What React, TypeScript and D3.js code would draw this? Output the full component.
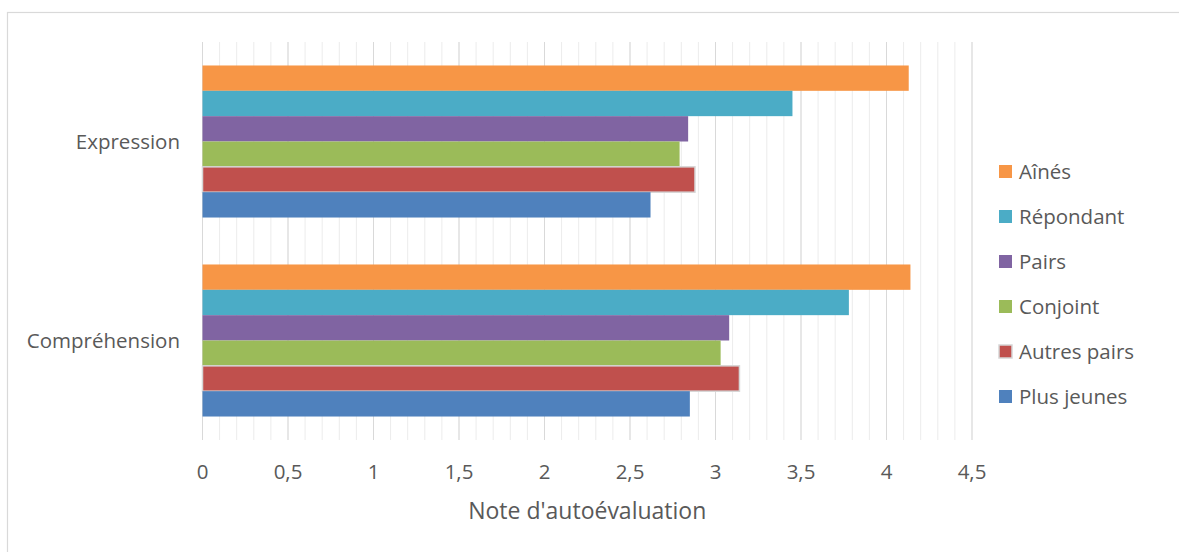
import React from "react";
import * as d3 from "d3";

const categories = ["Expression", "Compréhension"];
const seriesNames = ["Aînés", "Répondant", "Pairs", "Conjoint", "Autres pairs", "Plus jeunes"];
const seriesColors = ["#F79646", "#4BACC6", "#8064A2", "#9BBB59", "#C0504D", "#4F81BD"];
const expressionValues = [4.13, 3.45, 2.84, 2.79, 2.88, 2.62];
const comprehensionValues = [4.14, 3.78, 3.08, 3.03, 3.14, 2.85];
const tickValues = [0, 0.5, 1, 1.5, 2, 2.5, 3, 3.5, 4, 4.5];
const tickLabels = ["0", "0,5", "1", "1,5", "2", "2,5", "3", "3,5", "4", "4,5"];
const axisTitle = "Note d'autoévaluation";

const W = 1179;
const H = 552;
const FONT = "'Open Sans', sans-serif";
const TEXT = "#595959";

export default function App() {
  const x = d3.scaleLinear().domain([0, 4.5]).range([202.5, 972]);
  const y0 = d3.scaleBand<string>().domain(categories).range([42, 440]).paddingInner(0.236).paddingOuter(0.118);
  const y1 = d3.scaleBand<string>().domain(seriesNames).range([0, y0.bandwidth()]).padding(0);
  const valuesByCat: Record<string, number[]> = {
    Expression: expressionValues,
    "Compréhension": comprehensionValues,
  };
  const minor = d3.range(0, 46).map((i) => i / 10);

  return (
    <svg width={W} height={H} style={{ position: "absolute", left: 0, top: 0, background: "#fff" }}>
      <rect x={7.5} y={12.5} width={W + 10} height={H + 10} fill="#fff" stroke="#d9d9d9" strokeWidth={1.2} />
      {minor.map((v, i) => (
        <line key={"m" + i} x1={x(v)} x2={x(v)} y1={42} y2={440} stroke="#ececec" strokeWidth={1} />
      ))}
      {tickValues.map((v, i) => (
        <line key={"g" + i} x1={x(v)} x2={x(v)} y1={42} y2={440} stroke="#d9d9d9" strokeWidth={1} />
      ))}
      {categories.map((c) => (
        <g key={c} transform={`translate(0,${y0(c)})`}>
          {seriesNames.map((s, i) => {
            const v = valuesByCat[c][i];
            const isRed = s === "Autres pairs";
            return (
              <rect
                key={s}
                x={x(0)}
                y={y1(s)}
                width={x(v) - x(0)}
                height={y1.bandwidth()}
                fill={seriesColors[i]}
                stroke={isRed ? "#d6d6d6" : "none"}
                strokeWidth={isRed ? 1.5 : 0}
              />
            );
          })}
        </g>
      ))}
      {categories.map((c) => (
        <text
          key={"l" + c}
          x={180}
          y={(y0(c) as number) + y0.bandwidth() / 2}
          dy="0.35em"
          textAnchor="end"
          fontFamily={FONT}
          fontSize={20.5}
          fill={TEXT}
        >
          {c}
        </text>
      ))}
      {tickValues.map((v, i) => (
        <text key={"t" + i} x={x(v)} y={479} textAnchor="middle" fontFamily={FONT} fontSize={20.5} fill={TEXT}>
          {tickLabels[i]}
        </text>
      ))}
      <text x={x(2.25)} y={519} textAnchor="middle" fontFamily={FONT} fontSize={23} fill={TEXT}>
        {axisTitle}
      </text>
      {seriesNames.map((s, i) => (
        <g key={"lg" + s} transform={`translate(999,${171.5 + i * 45})`}>
          <rect
            x={0}
            y={-6.5}
            width={13}
            height={13}
            fill={seriesColors[i]}
            stroke={s === "Autres pairs" ? "#d6d6d6" : "none"}
            strokeWidth={s === "Autres pairs" ? 1.5 : 0}
          />
          <text x={20} y={0} dy="0.35em" fontFamily={FONT} fontSize={20.5} fill={TEXT}>
            {s}
          </text>
        </g>
      ))}
    </svg>
  );
}
